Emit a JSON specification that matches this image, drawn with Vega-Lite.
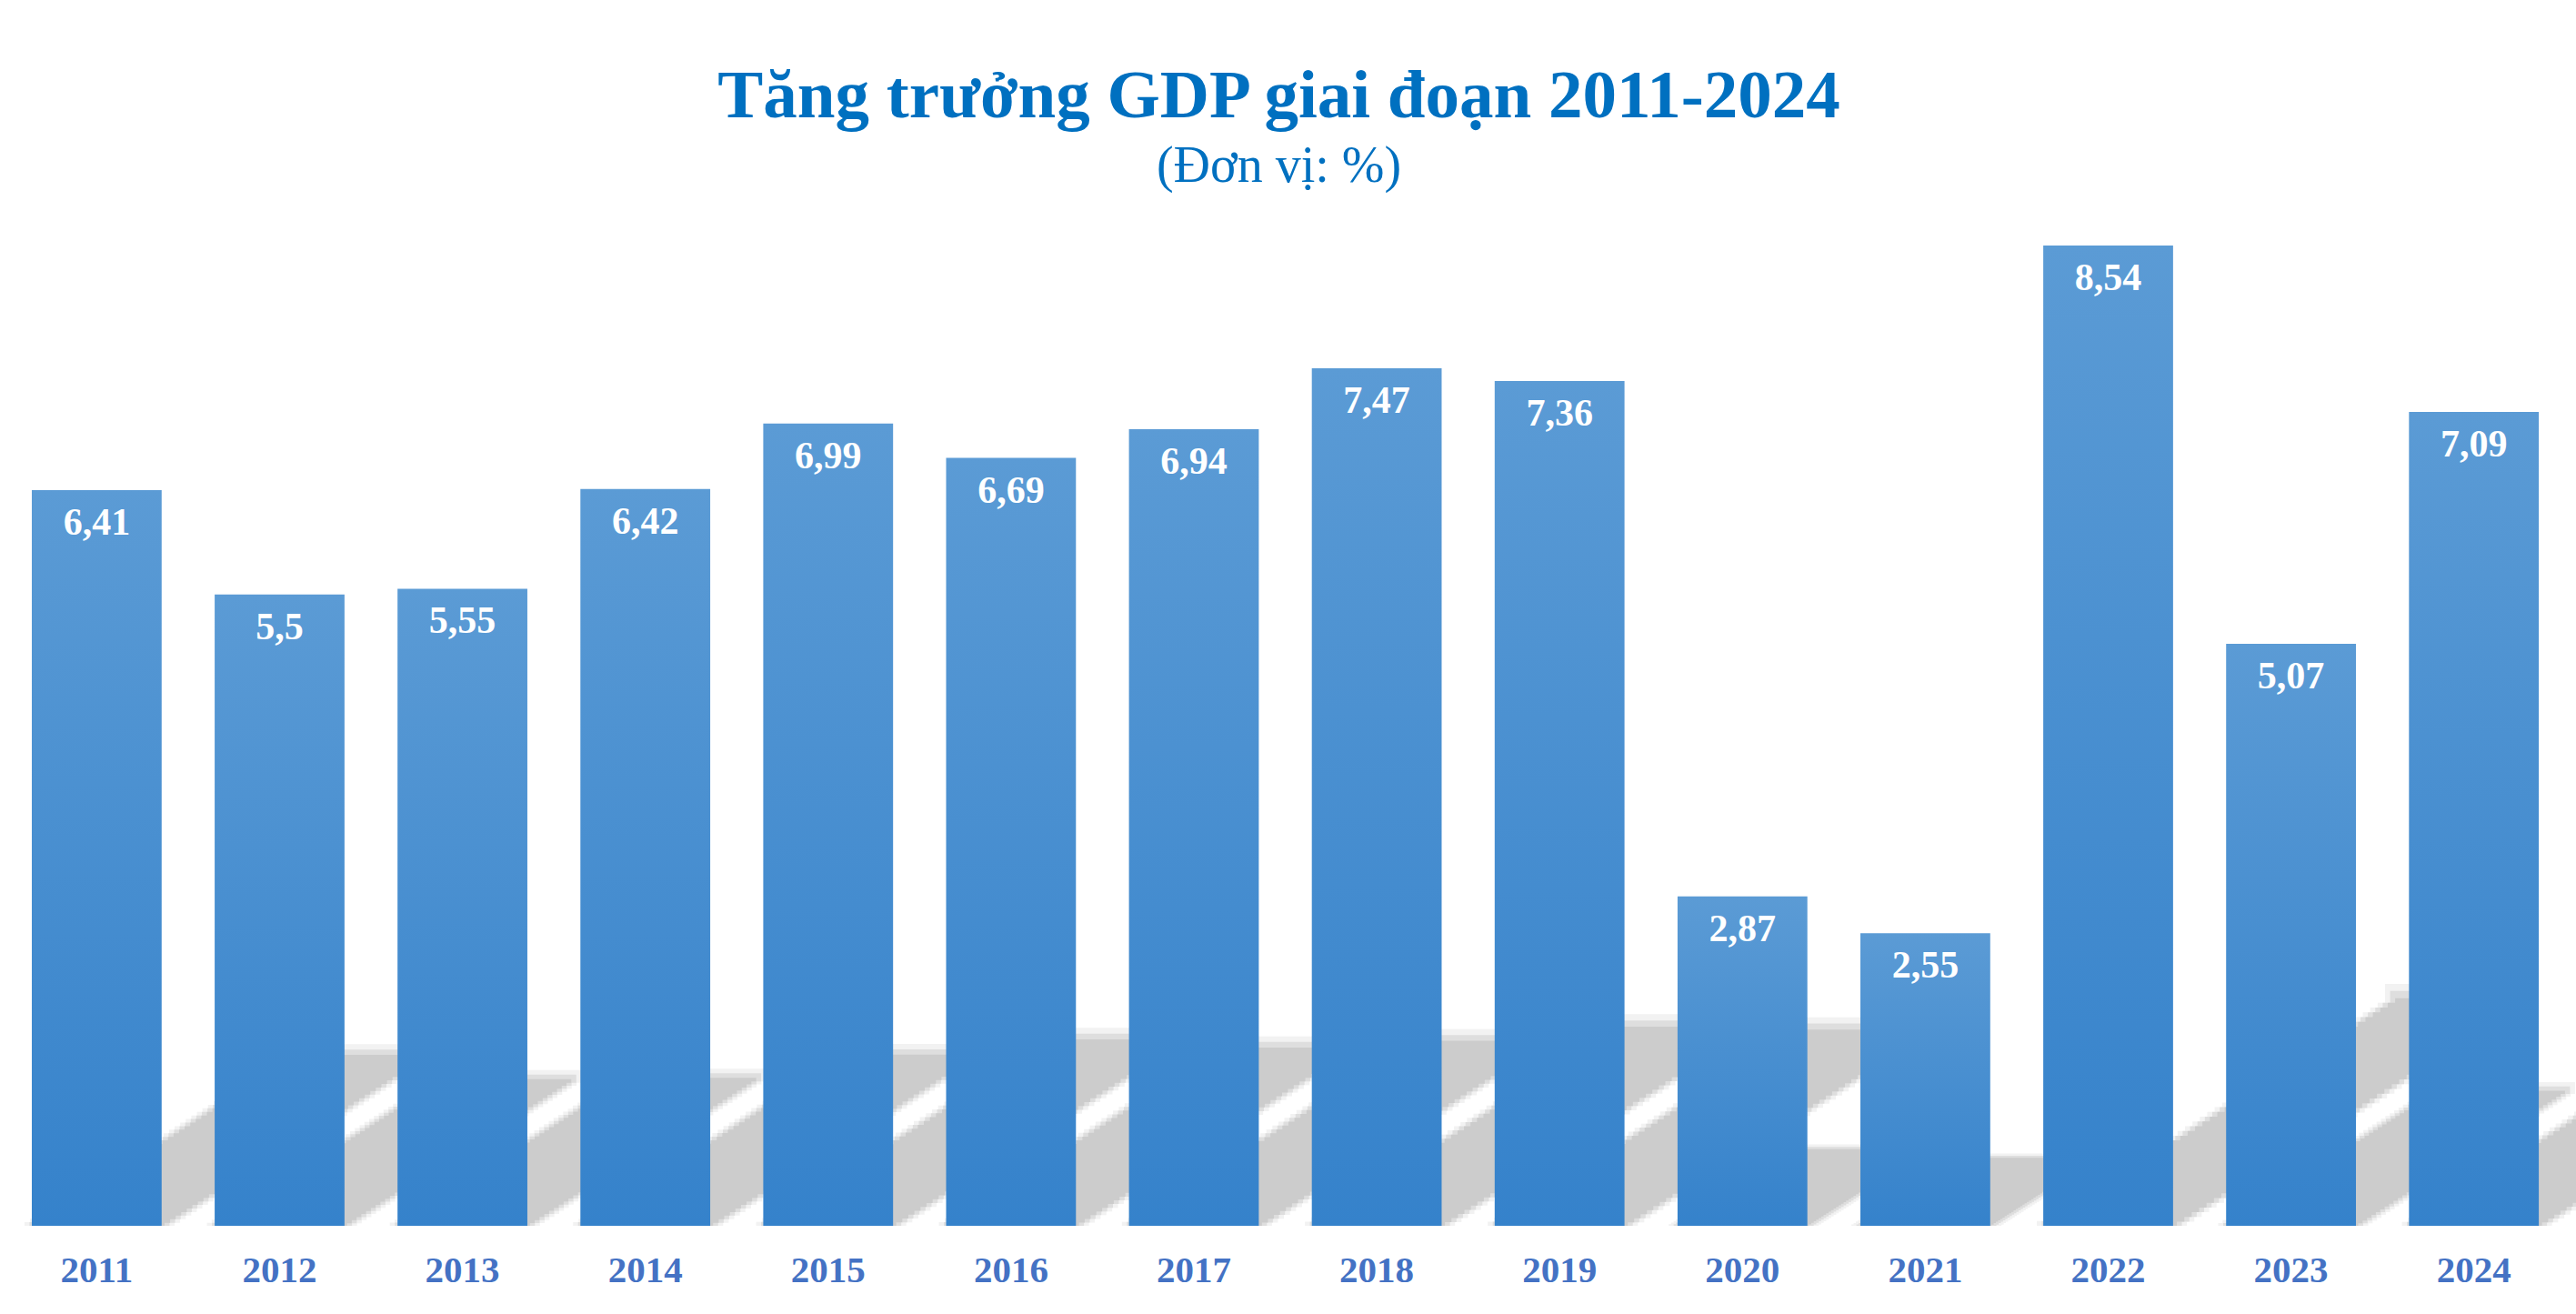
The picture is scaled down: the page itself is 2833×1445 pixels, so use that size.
{
  "$schema": "https://vega.github.io/schema/vega-lite/v6.json",
  "autosize": "none",
  "width": 2833,
  "height": 1136,
  "padding": {"left": 0, "right": 0, "top": 212, "bottom": 97},
  "background": "white",
  "title": {
    "text": "Tăng trưởng GDP giai đoạn 2011-2024",
    "subtitle": "(Đơn vị: %)",
    "font": "Liberation Serif",
    "fontSize": 75,
    "fontWeight": "bold",
    "color": "#0070C0",
    "subtitleFont": "Liberation Serif",
    "subtitleFontSize": 56,
    "subtitleColor": "#0070C0",
    "subtitlePadding": 11,
    "anchor": "middle",
    "offset": 0,
    "dx": -10
  },
  "data": {
    "values": [
      {"year": "2011", "gdp": 6.41, "label": "6,41"},
      {"year": "2012", "gdp": 5.5, "label": "5,5"},
      {"year": "2013", "gdp": 5.55, "label": "5,55"},
      {"year": "2014", "gdp": 6.42, "label": "6,42"},
      {"year": "2015", "gdp": 6.99, "label": "6,99"},
      {"year": "2016", "gdp": 6.69, "label": "6,69"},
      {"year": "2017", "gdp": 6.94, "label": "6,94"},
      {"year": "2018", "gdp": 7.47, "label": "7,47"},
      {"year": "2019", "gdp": 7.36, "label": "7,36"},
      {"year": "2020", "gdp": 2.87, "label": "2,87"},
      {"year": "2021", "gdp": 2.55, "label": "2,55"},
      {"year": "2022", "gdp": 8.54, "label": "8,54"},
      {"year": "2023", "gdp": 5.07, "label": "5,07"},
      {"year": "2024", "gdp": 7.09, "label": "7,09"}
    ]
  },
  "encoding": {
    "x": {
      "field": "year",
      "type": "nominal",
      "sort": null,
      "title": null,
      "scale": {"paddingInner": 0.29, "paddingOuter": 0.1887, "align": 0.461},
      "axis": {
        "labelAngle": 0,
        "labelFont": "Liberation Serif",
        "labelFontSize": 41,
        "labelFontWeight": "bold",
        "labelColor": "#4472C4",
        "labelBaseline": "alphabetic",
        "labelPadding": 61,
        "ticks": false,
        "tickSize": 0,
        "domain": false,
        "grid": false
      }
    },
    "y": {
      "field": "gdp",
      "type": "quantitative",
      "scale": {"domain": [0, 9], "nice": false},
      "axis": null
    }
  },
  "layer": [
    {
      "encoding": {
        "size": {
          "field": "gdp",
          "type": "quantitative",
          "scale": {"type": "pow", "exponent": 2, "domain": [0, 9], "range": [0, 679635]},
          "legend": null
        }
      },
      "layer": [
        {
          "mark": {
            "type": "point",
            "shape": "M0.0104,2.9V2.7426M0.0313,2.7446V2.7292M0.0521,2.7312V2.7159M0.0729,2.7179V2.7026M0.0938,2.7046V2.6892M0.1146,2.6912V2.6759M0.1354,2.6779V2.6626M0.1563,2.6646V2.6492M0.1771,2.6512V2.6359M0.1979,2.6379V2.6226M0.2188,2.6246V2.6092M0.2396,2.6112V2.5959M0.2604,2.5979V2.5826M0.2813,2.5846V2.5692M0.3021,2.5712V2.5559M0.3229,2.5579V2.5426M0.3438,2.5446V2.5292M0.3646,2.5312V2.5159M0.3854,2.5179V2.5026M0.4063,2.5046V2.4892M0.4271,2.4912V2.4759M0.4479,2.4779V2.4626M0.4688,2.4646V2.4492M0.4896,2.4512V2.4359M0.5104,2.4379V2.4226M0.5313,2.4246V2.4092M0.5521,2.4112V2.3959M0.5729,2.3979V2.3826M0.5938,2.3846V2.3692M0.6146,2.3712V2.3559M0.6354,2.3579V2.3426M0.6563,2.3446V2.3292M0.6771,2.3312V2.3159M0.6979,2.3179V2.3026M0.7188,2.3046V2.2892M0.7396,2.2912V2.2759M0.7604,2.2779V2.2626M0.7813,2.2646V2.2492M0.8021,2.2512V2.2359M0.8229,2.2379V2.2226M0.8438,2.2246V2.2092M0.8646,2.2112V2.1959M0.8854,2.1979V2.1826M0.9063,2.1846V2.1692M0.9271,2.1712V2.1559M0.9479,2.1579V2.1426M0.9688,2.1446V2.1292M0.9896,2.1312V2.0759",
            "filled": false,
            "stroke": "#cccccc",
            "strokeWidth": 165,
            "strokeCap": "butt",
            "opacity": 0.25,
            "clip": true
          }
        },
        {
          "mark": {
            "type": "point",
            "shape": "M0.0104,2.9V2.7426M0.0313,2.7446V2.7292M0.0521,2.7312V2.7159M0.0729,2.7179V2.7026M0.0938,2.7046V2.6892M0.1146,2.6912V2.6759M0.1354,2.6779V2.6626M0.1563,2.6646V2.6492M0.1771,2.6512V2.6359M0.1979,2.6379V2.6226M0.2188,2.6246V2.6092M0.2396,2.6112V2.5959M0.2604,2.5979V2.5826M0.2813,2.5846V2.5692M0.3021,2.5712V2.5559M0.3229,2.5579V2.5426M0.3438,2.5446V2.5292M0.3646,2.5312V2.5159M0.3854,2.5179V2.5026M0.4063,2.5046V2.4892M0.4271,2.4912V2.4759M0.4479,2.4779V2.4626M0.4688,2.4646V2.4492M0.4896,2.4512V2.4359M0.5104,2.4379V2.4226M0.5313,2.4246V2.4092M0.5521,2.4112V2.3959M0.5729,2.3979V2.3826M0.5938,2.3846V2.3692M0.6146,2.3712V2.3559M0.6354,2.3579V2.3426M0.6563,2.3446V2.3292M0.6771,2.3312V2.3159M0.6979,2.3179V2.3026M0.7188,2.3046V2.2892M0.7396,2.2912V2.2759M0.7604,2.2779V2.2626M0.7813,2.2646V2.2492M0.8021,2.2512V2.2359M0.8229,2.2379V2.2226M0.8438,2.2246V2.2092M0.8646,2.2112V2.1959M0.8854,2.1979V2.1826M0.9063,2.1846V2.1692M0.9271,2.1712V2.1559M0.9479,2.1579V2.1426M0.9688,2.1446V2.1292M0.9896,2.1312V2.0959",
            "filled": false,
            "stroke": "#cccccc",
            "strokeWidth": 154,
            "strokeCap": "butt",
            "opacity": 0.5,
            "clip": true
          }
        },
        {
          "mark": {
            "type": "point",
            "shape": "M0.0104,2.9V2.7426M0.0313,2.7446V2.7292M0.0521,2.7312V2.7159M0.0729,2.7179V2.7026M0.0938,2.7046V2.6892M0.1146,2.6912V2.6759M0.1354,2.6779V2.6626M0.1563,2.6646V2.6492M0.1771,2.6512V2.6359M0.1979,2.6379V2.6226M0.2188,2.6246V2.6092M0.2396,2.6112V2.5959M0.2604,2.5979V2.5826M0.2813,2.5846V2.5692M0.3021,2.5712V2.5559M0.3229,2.5579V2.5426M0.3438,2.5446V2.5292M0.3646,2.5312V2.5159M0.3854,2.5179V2.5026M0.4063,2.5046V2.4892M0.4271,2.4912V2.4759M0.4479,2.4779V2.4626M0.4688,2.4646V2.4492M0.4896,2.4512V2.4359M0.5104,2.4379V2.4226M0.5313,2.4246V2.4092M0.5521,2.4112V2.3959M0.5729,2.3979V2.3826M0.5938,2.3846V2.3692M0.6146,2.3712V2.3559M0.6354,2.3579V2.3426M0.6563,2.3446V2.3292M0.6771,2.3312V2.3159M0.6979,2.3179V2.3026M0.7188,2.3046V2.2892M0.7396,2.2912V2.2759M0.7604,2.2779V2.2626M0.7813,2.2646V2.2492M0.8021,2.2512V2.2359M0.8229,2.2379V2.2226M0.8438,2.2246V2.2092M0.8646,2.2112V2.1959M0.8854,2.1979V2.1826M0.9063,2.1846V2.1692M0.9271,2.1712V2.1559M0.9479,2.1579V2.1426M0.9688,2.1446V2.1292M0.9896,2.1312V2.1159",
            "filled": false,
            "stroke": "#cccccc",
            "strokeWidth": 143,
            "strokeCap": "butt",
            "opacity": 1,
            "clip": true
          }
        }
      ]
    },
    {
      "mark": {
        "type": "bar",
        "fill": {
          "gradient": "linear",
          "x1": 0, "y1": 0, "x2": 0, "y2": 1,
          "stops": [
            {"offset": 0, "color": "#5b9bd5"},
            {"offset": 1, "color": "#3582cb"}
          ]
        }
      }
    },
    {
      "mark": {
        "type": "text",
        "font": "Liberation Serif",
        "fontSize": 42,
        "fontWeight": "bold",
        "color": "white",
        "baseline": "alphabetic",
        "align": "center",
        "dy": 49
      },
      "encoding": {
        "text": {"field": "label", "type": "nominal"}
      }
    }
  ],
  "config": {
    "view": {"stroke": null}
  }
}
